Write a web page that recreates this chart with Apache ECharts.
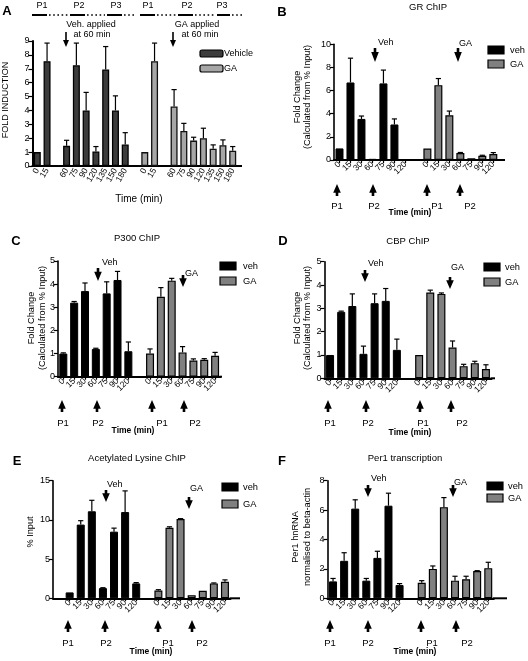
<!DOCTYPE html>
<html><head><meta charset="utf-8">
<script src="https://cdn.jsdelivr.net/npm/echarts@6/dist/echarts.min.js"></script>
<style>html,body{margin:0;padding:0;background:#fff}#c{width:528px;height:661px}</style>
</head><body><div id="c"></div>
<script>
const FONT = 'Liberation Sans, Arial, Helvetica, sans-serif';

// ---------- Panel A : FOLD INDUCTION ----------
const A_times = ['0','15','60','75','90','120','135','150','180'];
const A_vehicle    = [1.0, 7.55, 1.45, 7.25, 4.0, 1.05, 6.95, 4.0, 1.55];
const A_vehicleErr = [0,   1.3,  0.4,  1.6,  1.3, 0.35, 1.65, 1.05, 0.85];
const A_ga         = [1.0, 7.55, 4.28, 2.52, 1.83, 2.0, 1.25, 1.5, 1.1];
const A_gaErr      = [0,   1.3,  1.22, 0.55, 0.24, 0.72, 0.27, 0.38, 0.3];
const A_yTicks = [0,1,2,3,4,5,6,7,8,9];

// ---------- Panels B-F share time points ----------
const BF_times = ['0','15','30','60','75','90','120'];

// B: GR ChIP
const B_veh    = [1.0, 6.7, 3.55, 0.1, 6.62, 3.07, 0.05];
const B_vehErr = [0,   2.1, 0.25, 0,   1.15, 0.48, 0];
const B_ga     = [1.0, 6.47, 3.86, 0.6, 0.15, 0.37, 0.52];
const B_gaErr  = [0,   0.57, 0.37, 0.05, 0,   0.04, 0.12];
const B_yTicks = [0,2,4,6,8,10];

// C: P300 ChIP
const C_veh    = [1.0, 3.2, 3.7, 1.2, 3.6, 4.18, 1.1];
const C_vehErr = [0.03, 0.05, 0.35, 0.03, 0.5, 0.37, 0.4];
const C_ga     = [1.0, 3.45, 4.15, 1.05, 0.7, 0.73, 0.9];
const C_gaErr  = [0.2, 0.4, 0.1, 0.25, 0.07, 0.05, 0.15];
const C_yTicks = [0,1,2,3,4,5];

// D: CBP ChIP
const D_veh    = [1.0, 2.85, 3.1, 1.05, 3.22, 3.32, 1.22];
const D_vehErr = [0, 0.03, 0.52, 0.33, 0.4, 0.53, 0.46];
const D_ga     = [1.0, 3.68, 3.62, 1.32, 0.52, 0.65, 0.4];
const D_gaErr  = [0, 0.1, 0.04, 0.28, 0.08, 0.08, 0.18];
const D_yTicks = [0,1,2,3,4,5];

// E: Acetylated Lysine ChIP
const E_veh    = [0.75, 9.4, 11.1, 1.3, 8.5, 11.0, 1.9];
const E_vehErr = [0, 0.5, 1.4, 0.05, 0.45, 2.7, 0.1];
const E_ga     = [1.0, 9.0, 10.1, 0.4, 0.95, 1.9, 2.1];
const E_gaErr  = [0.1, 0.12, 0.06, 0, 0, 0.06, 0.25];
const E_yTicks = [0,5,10,15];

// F: Per1 transcription
const F_veh    = [1.15, 2.55, 6.1, 1.2, 2.75, 6.3, 0.9];
const F_vehErr = [0.2, 0.55, 0.6, 0.15, 0.45, 0.85, 0.1];
const F_ga     = [1.05, 2.0, 6.2, 1.2, 1.3, 1.85, 2.05];
const F_gaErr  = [0.15, 0.2, 0.65, 0.3, 0.2, 0.03, 0.4];
const F_yTicks = [0,2,4,6,8];

function buildCats(times, gapAfter, lead) {
  const cats = [], vehIdx = [], gaIdx = [];
  let g = 0;
  for (let i = 0; i < lead; i++) cats.push('gap' + (g++));
  ['v', 'g'].forEach((grp, gi) => {
    if (gi === 1) cats.push('gap' + (g++));
    times.forEach((t, i) => {
      (grp === 'v' ? vehIdx : gaIdx).push(cats.length);
      cats.push(grp + ':' + t);
      if (gapAfter !== null && i === gapAfter) cats.push('gap' + (g++));
    });
  });
  return { cats, vehIdx, gaIdx };
}

const panels = [
  { times: A_times, veh: A_vehicle, vehErr: A_vehicleErr, ga: A_ga, gaErr: A_gaErr, ticks: A_yTicks,
    grid: { left: 32.4, top: 41, width: 205.2, height: 125 }, gapAfter: 1, lead: 0, A: true, axisEnd: 242 },
  { times: BF_times, veh: B_veh, vehErr: B_vehErr, ga: B_ga, gaErr: B_gaErr, ticks: B_yTicks,
    grid: { left: 334, top: 44.3, width: 164.8, height: 115.7 }, gapAfter: null, lead: 0, axisEnd: 505 },
  { times: BF_times, veh: C_veh, vehErr: C_vehErr, ga: C_ga, gaErr: C_gaErr, ticks: C_yTicks,
    grid: { left: 57.9, top: 261, width: 162.6, height: 115.7 }, gapAfter: null, lead: 0, axisEnd: 222 },
  { times: BF_times, veh: D_veh, vehErr: D_vehErr, ga: D_ga, gaErr: D_gaErr, ticks: D_yTicks,
    grid: { left: 324.5, top: 261.7, width: 167, height: 116.6 }, gapAfter: null, lead: 0, axisEnd: 495 },
  { times: BF_times, veh: E_veh, vehErr: E_vehErr, ga: E_ga, gaErr: E_gaErr, ticks: E_yTicks,
    grid: { left: 53, top: 480.7, width: 177.5, height: 117.6 }, gapAfter: null, lead: 1, axisEnd: 240 },
  { times: BF_times, veh: F_veh, vehErr: F_vehErr, ga: F_ga, gaErr: F_gaErr, ticks: F_yTicks,
    grid: { left: 327.5, top: 480.7, width: 166.3, height: 117.6 }, gapAfter: null, lead: 0, axisEnd: 507 }
];

const grids = [], xAxes = [], yAxes = [], series = [];

function errRender(params, api) {
  const p0 = api.coord([api.value(0), api.value(1)]);
  const p1 = api.coord([api.value(0), api.value(2)]);
  const cw = 2.6;
  const st = { stroke: '#000', lineWidth: 1.2 };
  return { type: 'group', children: [
    { type: 'line', shape: { x1: p0[0], y1: p0[1], x2: p1[0], y2: p1[1] }, style: st },
    { type: 'line', shape: { x1: p1[0] - cw, y1: p1[1], x2: p1[0] + cw, y2: p1[1] }, style: st }
  ]};
}

panels.forEach((p, i) => {
  const { cats, vehIdx, gaIdx } = buildCats(p.times, p.gapAfter, p.lead);
  grids.push(Object.assign({ containLabel: false }, p.grid));
  xAxes.push({
    type: 'category', gridIndex: i, data: cats,
    axisLine: { lineStyle: { color: '#000', width: 2 } },
    axisTick: p.A ? { show: false } : { show: true, alignWithLabel: true, length: 3,
      interval: (idx, val) => !String(val).startsWith('gap'), lineStyle: { color: '#000', width: 1.2 } },
    axisLabel: { interval: 0, rotate: p.A ? 60 : 45, fontSize: 8.5, color: '#000', fontFamily: FONT, margin: 3,
      formatter: v => v.startsWith('gap') ? '' : v.split(':')[1] },
    splitLine: { show: false }
  });
  const t = p.ticks;
  yAxes.push({
    type: 'value', gridIndex: i, min: t[0], max: t[t.length - 1], interval: t[1] - t[0],
    axisLine: { show: true, lineStyle: { color: '#000', width: p.A ? 2 : 1.6 } },
    axisTick: { show: true, length: 4, lineStyle: { color: '#000', width: 1.2 } },
    axisLabel: { fontSize: 9, color: '#000', fontFamily: FONT, margin: 3 },
    splitLine: { show: false }
  });
  const vehData = cats.map(() => '-');
  const gaData = cats.map(() => '-');
  const errData = [];
  vehIdx.forEach((ci, k) => { vehData[ci] = p.veh[k]; if (p.vehErr[k] > 0) errData.push([ci, p.veh[k], p.veh[k] + p.vehErr[k]]); });
  gaIdx.forEach((ci, k) => { gaData[ci] = p.ga[k]; if (p.gaErr[k] > 0) errData.push([ci, p.ga[k], p.ga[k] + p.gaErr[k]]); });
  const bw = p.A ? 7 : 8;
  series.push({
    type: 'bar', name: p.A ? 'Vehicle' : 'veh', xAxisIndex: i, yAxisIndex: i, data: vehData,
    barWidth: bw, barGap: '-100%',
    itemStyle: p.A ? { color: '#3c3c3c', borderColor: '#000', borderWidth: 1.3 } : { color: '#000', borderColor: '#000', borderWidth: 1 }
  });
  series.push({
    type: 'bar', name: 'GA', xAxisIndex: i, yAxisIndex: i, data: gaData,
    barWidth: bw, barGap: '-100%',
    itemStyle: p.A ? { color: '#a6a6a6', borderColor: '#111', borderWidth: 1.3 } : { color: '#808080', borderColor: '#000', borderWidth: 1.2 }
  });
  series.push({
    type: 'custom', xAxisIndex: i, yAxisIndex: i, data: errData, renderItem: errRender,
    encode: { x: 0, y: [1, 2] }, z: 5, silent: true
  });
});

// ---------- annotation helpers ----------
function txt(x, y, s, o = {}) {
  return { type: 'text', x: x, y: y, rotation: o.rot || 0, silent: true,
    style: { text: s, fill: '#000', fontSize: o.size || 9, fontFamily: FONT, fontWeight: o.bold ? 'bold' : 'normal',
      align: o.align || 'center', verticalAlign: 'middle', textAlign: o.align || 'center', textVerticalAlign: 'middle' } };
}
function downArrow(x, y1, y2) {
  const h = y2 - y1, hh = h * 0.72, sw = 1.3, hw = 3.8;
  return { type: 'polygon', silent: true, shape: { points: [[x - sw, y1], [x + sw, y1], [x + sw, y2 - hh], [x + hw, y2 - hh], [x, y2], [x - hw, y2 - hh], [x - sw, y2 - hh]] }, style: { fill: '#000' } };
}
function upArrow(x, y1, y2) {
  const h = y2 - y1, hh = h * 0.72, sw = 1.3, hw = 3.8;
  return { type: 'polygon', silent: true, shape: { points: [[x, y1], [x + hw, y1 + hh], [x + sw, y1 + hh], [x + sw, y2], [x - sw, y2], [x - sw, y1 + hh], [x - hw, y1 + hh]] }, style: { fill: '#000' } };
}
function thinDown(x, y1, y2) {
  return [
    { type: 'line', silent: true, shape: { x1: x, y1: y1, x2: x, y2: y2 - 5 }, style: { stroke: '#000', lineWidth: 1.6 } },
    { type: 'polygon', silent: true, shape: { points: [[x - 3, y2 - 7], [x + 3, y2 - 7], [x, y2]] }, style: { fill: '#000' } }
  ];
}
function rect(x, y, w, h, fill, r) {
  return { type: 'rect', silent: true, shape: { x: x, y: y, width: w, height: h, r: r || 0 }, style: { fill: fill, stroke: '#000', lineWidth: 1.2 } };
}
function seg(x1, x2, y, dashed) {
  return { type: 'line', silent: true, shape: { x1: x1, y1: y, x2: x2, y2: y },
    style: { stroke: '#000', lineWidth: dashed ? 1.6 : 2, lineDash: dashed ? [1.6, 2.6] : null } };
}

const G = [];
// x-axis line continuation to the right, as in the original figure
panels.forEach(p => {
  const yb = p.grid.top + p.grid.height, xr = p.grid.left + p.grid.width;
  if (p.axisEnd > xr) G.push({ type: 'line', silent: true, shape: { x1: xr - 1, y1: yb, x2: p.axisEnd, y2: yb }, style: { stroke: '#000', lineWidth: 2 } });
});
// Panel letters
[['A', 7, 11], ['B', 282, 12], ['C', 16, 241], ['D', 283, 241], ['E', 17, 461], ['F', 282, 461]].forEach(l => G.push(txt(l[1], l[2], l[0], { size: 13, bold: true })));

// ---- Panel A annotations ----
[['P1', 42], ['P2', 79], ['P3', 116], ['P1', 148], ['P2', 187], ['P3', 222]].forEach(l => G.push(txt(l[1], 6, l[0], { size: 9 })));
[[32, 47], [70, 85], [107, 122], [140, 155], [178, 193], [217, 230]].forEach(s => G.push(seg(s[0], s[1], 15, false)));
[[49, 68], [87, 105], [124, 136], [157, 177], [195, 215], [232, 242]].forEach(s => G.push(seg(s[0], s[1], 15, true)));
G.push(txt(91, 25, 'Veh. applied'), txt(92, 35, 'at 60 min'));
G.push(txt(197, 25, 'GA applied'), txt(200, 35, 'at 60 min'));
G.push(...thinDown(66, 32, 47), ...thinDown(173, 32, 47));
G.push(rect(200, 50, 23, 7, '#3c3c3c', 2), txt(224, 54, 'Vehicle', { align: 'left' }));
G.push(rect(200, 65, 23, 7, '#a6a6a6', 2), txt(224, 69, 'GA', { align: 'left' }));
G.push(txt(6, 100, 'FOLD INDUCTION', { rot: Math.PI / 2 }));
G.push(txt(139, 199, 'Time (min)', { size: 10 }));

// ---- panels B-F annotations ----
const ann = [
  { title: ['GR ChIP', 428, 7], ylab: [['Fold Change', 297], ['(Calculated from % Input)', 307]], ymid: 97,
    veh: [375, 48, 62, 378, 43], ga: [458, 48, 62, 459, 44], leg: [488, 46, 60, 510],
    up: [[337, 337], [373, 374], [427, 437], [460, 470]], upY: [184, 196, 201], time: [410, 213] },
  { title: ['P300 ChIP', 137, 238], ylab: [['Fold Change', 31], ['(Calculated from % Input)', 42]], ymid: 318,
    veh: [98, 268, 281, 102, 263], ga: [183, 275, 287, 185, 274], leg: [220, 262, 277, 243],
    up: [[62, 63], [97, 98], [152, 162], [184, 195]], upY: [400, 412, 418], time: [133, 431] },
  { title: ['CBP ChIP', 408, 241], ylab: [['Fold Change', 297], ['(Calculated from % Input)', 307]], ymid: 318,
    veh: [365, 270, 282, 368, 264], ga: [450, 277, 289, 451, 268], leg: [484, 263, 278, 505],
    up: [[328, 330], [366, 368], [420, 423], [451, 462]], upY: [400, 412, 418], time: [410, 433] },
  { title: ['Acetylated Lysine ChIP', 137, 458], ylab: [['% Input', 30]], ymid: 532,
    veh: [106, 490, 502, 107, 485], ga: [189, 497, 509, 190, 489], leg: [222, 483, 500, 243],
    up: [[68, 68], [105, 106], [158, 168], [192, 202]], upY: [620, 632, 638], time: [151, 652] },
  { title: ['Per1 transcription', 405, 458], ylab: [['Per1 hnRNA', 295], ['normalised to beta-actin', 307]], ymid: 537,
    veh: [368, 485, 497, 371, 479], ga: [453, 485, 497, 454, 483], leg: [487, 482, 494, 508],
    up: [[330, 330], [368, 368], [421, 432], [456, 467]], upY: [620, 632, 638], time: [415, 652] }
];
ann.forEach(a => {
  G.push(txt(a.title[1], a.title[2], a.title[0], { size: 9.5 }));
  a.ylab.forEach(l => G.push(txt(l[1], a.ymid, l[0], { rot: Math.PI / 2, size: 9.2 })));
  G.push(downArrow(a.veh[0], a.veh[1], a.veh[2]), txt(a.veh[3], a.veh[4], 'Veh', { align: 'left' }));
  G.push(downArrow(a.ga[0], a.ga[1], a.ga[2]), txt(a.ga[3], a.ga[4], 'GA', { align: 'left' }));
  G.push(rect(a.leg[0], a.leg[1], 16, 8, '#000'), txt(a.leg[3], a.leg[1] + 4, 'veh', { align: 'left', size: 9.3 }));
  G.push(rect(a.leg[0], a.leg[2], 16, 8, '#808080'), txt(a.leg[3], a.leg[2] + 4, 'GA', { align: 'left', size: 9.3 }));
  ['P1', 'P2', 'P1', 'P2'].forEach((lab, k) => {
    G.push(upArrow(a.up[k][0], a.upY[0], a.upY[1]));
    G.push(txt(a.up[k][1], a.upY[2] + 5, lab, { size: 9.5 }));
  });
  G.push(txt(a.time[0], a.time[1], 'Time (min)', { size: 8.5, bold: true }));
});

const chart = echarts.init(document.getElementById('c'), null, { renderer: 'canvas' });
chart.setOption({
  animation: false,
  backgroundColor: '#fff',
  textStyle: { fontFamily: FONT },
  grid: grids, xAxis: xAxes, yAxis: yAxes, series: series,
  graphic: { elements: G }
});
</script></body></html>
